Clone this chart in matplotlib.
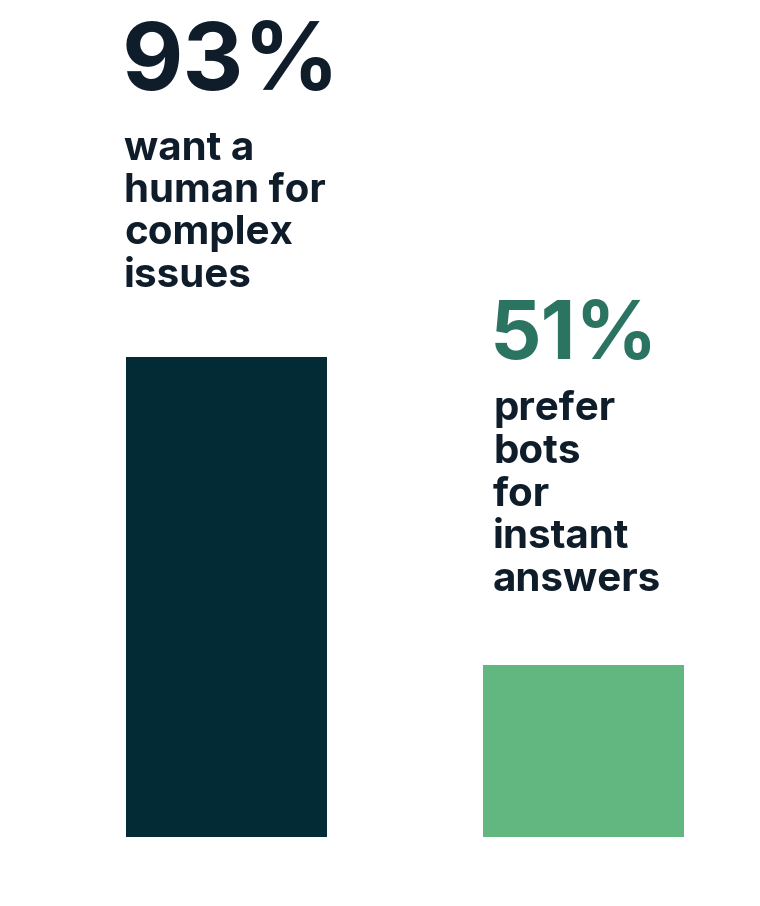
import matplotlib
matplotlib.use("Agg")
import matplotlib.pyplot as plt

categories = ["human", "bots"]
values = [93, 51]
big_labels = ["93%", "51%"]
sub_labels = ["want a\nhuman for\ncomplex\nissues", "prefer\nbots\nfor\ninstant\nanswers"]
bar_colors = ["#022b36", "#61b77f"]
big_colors = ["#0f1c2a", "#2a7461"]

W, H = 760, 906
fig = plt.figure(figsize=(W/100, H/100), dpi=100)
base = 27.6
ax = fig.add_axes([0, (H-837)/H, 1, 480/H])
ax.bar(range(len(values)), [v - base for v in values], bottom=base,
       width=201/357, color=bar_colors)
ax.set_xlim(-226.5/357, 1 + (760-583.5)/357)
ax.set_ylim(base, 93)
ax.axis("off")

fam = "Inter"
fig.text(122/W, 1 - 22/H, big_labels[0], fontsize=68, fontweight="bold",
         color=big_colors[0], family=fam, va="top", ha="left")
fig.text(124/W, 1 - 131/H, sub_labels[0], fontsize=29, fontweight="bold",
         color=big_colors[0], family=fam, va="top", ha="left", linespacing=1.18)
fig.text(490/W, 1 - 300/H, big_labels[1], fontsize=58, fontweight="bold",
         color=big_colors[1], family=fam, va="top", ha="left")
fig.text(493/W, 1 - 390/H, sub_labels[1], fontsize=29, fontweight="bold",
         color=big_colors[0], family=fam, va="top", ha="left", linespacing=1.2)

fig.savefig("out.png", dpi=100, facecolor="white")
